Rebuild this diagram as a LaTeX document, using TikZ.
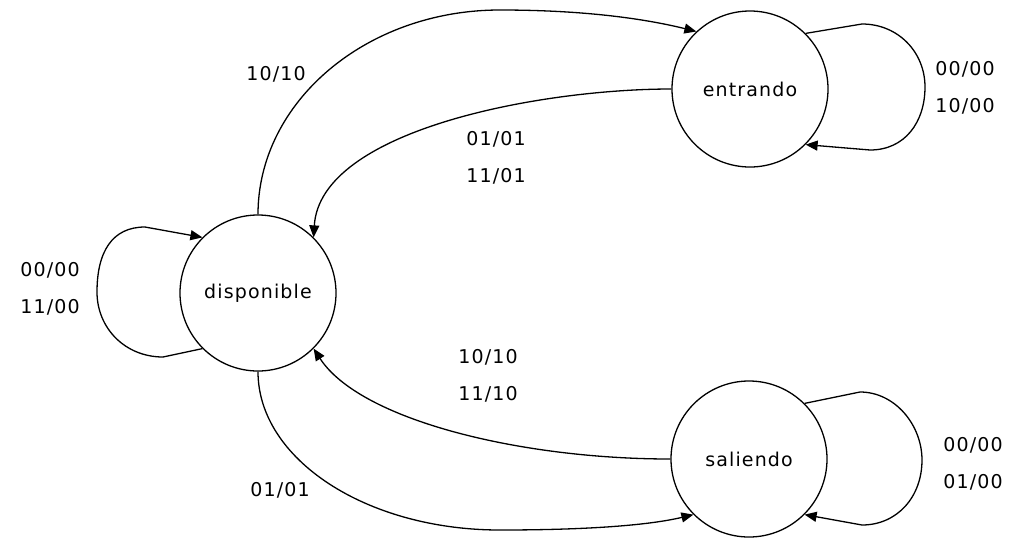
\documentclass[tikz,border=0pt]{standalone}
\usepackage{fontspec}
\newfontfamily\lblfont[LetterSpace=6]{DejaVu Sans}
\usetikzlibrary{arrows.meta}
\begin{document}
\begin{tikzpicture}[x=1pt,y=-1pt,
  state/.style={circle,draw,line width=1.3pt,minimum size=156pt,inner sep=0pt,font=\lblfont\fontsize{19}{23}\selectfont},
  lbl/.style={align=center,inner sep=0pt,font=\lblfont\fontsize{19}{37}\selectfont},
  edge/.style={line width=1.3pt,-{Triangle[length=12pt,width=10pt]}}]
\useasboundingbox (0,0) rectangle (1018,542);
\node[state] (d) at (258,293) {disponible};
\node[state] (e) at (750,89) {entrando};
\node[state] (s) at (749,459) {saliendo};
% disponible -> entrando
\draw[edge] (d.90) .. controls (258,102) and (366,10) .. (500,10) .. controls (590,10) and (650,20) .. (e.133);
% entrando -> disponible
\draw[edge] (e.180) .. controls (540,89) and (320,130) .. (d.45);
% saliendo -> disponible
\draw[edge] (s.180) .. controls (520,459) and (360,420) .. (d.-45);
% disponible -> saliendo
\draw[edge] (d.270) .. controls (258,459) and (366,530) .. (500,530) .. controls (590,530) and (650,525) .. (s.225);
% self loops
\draw[edge] (d.225) -- (163,357) .. controls (125,357) and (97,328) .. (97,292) .. controls (97,252) and (112,227) .. (145,227) -- (d.135);
\draw[edge] (e.45) -- (862,24) .. controls (898,24) and (925,52) .. (925,87) .. controls (925,122) and (905,150) .. (870,150) -- (e.-45);
\draw[edge] (s.45) -- (860,392) .. controls (895,392) and (922,425) .. (922,460) .. controls (922,497) and (897,525) .. (862,525) -- (s.-45);
% labels
\node[lbl] (l1) at (276,74) {10/10};
\node[lbl] (l2) at (496,158) {01/01\\11/01};
\node[lbl] (l3) at (50,289) {00/00\\11/00};
\node[lbl] (l4) at (965,88) {00/00\\10/00};
\node[lbl] (l5) at (488,376) {10/10\\11/10};
\node[lbl] (l6) at (973,464) {00/00\\01/00};
\node[lbl] (l7) at (280,490) {01/01};
\end{tikzpicture}
\end{document}
